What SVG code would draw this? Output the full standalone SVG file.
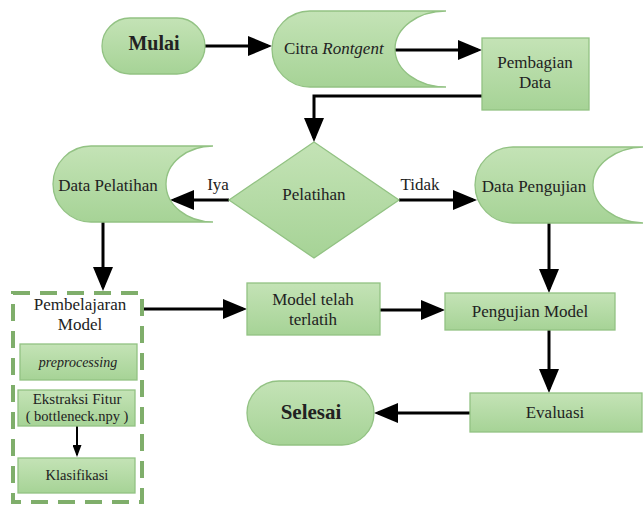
<svg xmlns="http://www.w3.org/2000/svg" width="643" height="507" viewBox="0 0 643 507">
<style>
.sh{fill:url(#g);stroke:#92c283;stroke-width:1.3}
.t{font-family:"Liberation Serif","Times New Roman",serif;font-size:17px;fill:#222;text-anchor:middle}
.b{font-weight:bold;font-size:20px}
.s{font-size:14.5px}
.c{fill:none;stroke:#000;stroke-width:3}
.c2{fill:none;stroke:#000;stroke-width:2}
</style>
<defs>
<linearGradient id="g" x1="0" y1="0" x2="0" y2="1">
<stop offset="0" stop-color="#c4e3b6"/>
<stop offset="1" stop-color="#a6d396"/>
</linearGradient>
<marker id="a" markerUnits="userSpaceOnUse" markerWidth="24" markerHeight="20" refX="20" refY="10" orient="auto">
<path d="M0,0 L24,10 L0,20 z" fill="#000"/>
</marker>
<marker id="a2" markerUnits="userSpaceOnUse" markerWidth="12" markerHeight="9" refX="10" refY="4.5" orient="auto">
<path d="M0,0 L12,4.5 L0,9 z" fill="#000"/>
</marker>
</defs>
<g id="connectors">
<line class="c" x1="205" y1="46" x2="268" y2="46" marker-end="url(#a)"/>
<line class="c" x1="395" y1="50" x2="478" y2="50" marker-end="url(#a)"/>
<polyline class="c" points="482,96 314,96 314,138" marker-end="url(#a)"/>
<line class="c" x1="229" y1="200" x2="174" y2="200" marker-end="url(#a)"/>
<line class="c" x1="399" y1="200" x2="473" y2="200" marker-end="url(#a)"/>
<line class="c" x1="103" y1="222" x2="103" y2="287" marker-end="url(#a)"/>
<line class="c" x1="142" y1="309" x2="243" y2="309" marker-end="url(#a)"/>
<line class="c" x1="380" y1="310" x2="441" y2="310" marker-end="url(#a)"/>
<line class="c" x1="549" y1="223" x2="549" y2="289" marker-end="url(#a)"/>
<line class="c" x1="549" y1="330" x2="549" y2="389" marker-end="url(#a)"/>
<line class="c" x1="470" y1="413" x2="378" y2="413" marker-end="url(#a)"/>
<line class="c2" x1="77" y1="426" x2="77" y2="455" marker-end="url(#a2)"/>
<text class="t" x="218" y="190">Iya</text>
<text class="t" x="420" y="190">Tidak</text>
</g>
<g id="mulai">
<rect class="sh" x="102" y="18" width="103" height="56" rx="28"/>
<text class="t b" x="154" y="50">Mulai</text>
</g>
<g id="citra">
<path class="sh" d="M310,11 L446,11 A51,38 0 0 0 446,87 L310,87 A38,38 0 0 1 310,11 Z"/>
<text class="t" x="284" y="54" style="text-anchor:start">Citra <tspan font-style="italic">Rontgent</tspan></text>
</g>
<g id="pembagian">
<rect class="sh" x="482" y="38" width="107" height="72"/>
<text class="t" x="535" y="68">Pembagian</text>
<text class="t" x="535" y="88">Data</text>
</g>
<g id="pelatihan">
<polygon class="sh" points="314,142 399,200 314,258 229,200"/>
<text class="t" x="314" y="200">Pelatihan</text>
</g>
<g id="data-pelatihan">
<path class="sh" d="M91,146 L213,146 A47,38 0 0 0 213,222 L91,222 A38,38 0 0 1 91,146 Z"/>
<text class="t" x="108" y="191">Data Pelatihan</text>
</g>
<g id="data-pengujian">
<path class="sh" d="M513,147 L645,147 A52,38 0 0 0 645,223 L513,223 A38,38 0 0 1 513,147 Z"/>
<text class="t" x="534" y="192">Data Pengujian</text>
</g>
<g id="pembelajaran">
<rect x="13" y="293" width="129" height="209" fill="none" stroke="#7fae6b" stroke-width="4" stroke-dasharray="17 10"/>
<text class="t" x="80" y="310">Pembelajaran</text>
<text class="t" x="80" y="330">Model</text>
</g>
<g id="preprocessing">
<rect class="sh" x="20" y="344" width="117" height="36"/>
<text class="t" x="78" y="367" style="font-size:14px;font-style:italic">preprocessing</text>
</g>
<g id="ekstraksi">
<rect class="sh" x="18" y="390" width="117" height="36"/>
<text class="t" x="77" y="404" style="font-size:15px">Ekstraksi Fitur</text>
<text class="t s" x="77" y="421">( bottleneck.npy )</text>
</g>
<g id="klasifikasi">
<rect class="sh" x="18" y="458" width="117" height="35"/>
<text class="t s" x="77" y="480">Klasifikasi</text>
</g>
<g id="model-terlatih">
<rect class="sh" x="247" y="283" width="133" height="52"/>
<text class="t" x="313" y="305">Model telah</text>
<text class="t" x="313" y="325">terlatih</text>
</g>
<g id="pengujian-model">
<rect class="sh" x="445" y="293" width="170" height="37"/>
<text class="t" x="530" y="317">Pengujian Model</text>
</g>
<g id="evaluasi">
<rect class="sh" x="470" y="393" width="172" height="39"/>
<text class="t" x="555" y="418">Evaluasi</text>
</g>
<g id="selesai">
<rect class="sh" x="247" y="381" width="127" height="64" rx="32"/>
<text class="t b" x="311" y="419" style="font-size:21px">Selesai</text>
</g>
</svg>
